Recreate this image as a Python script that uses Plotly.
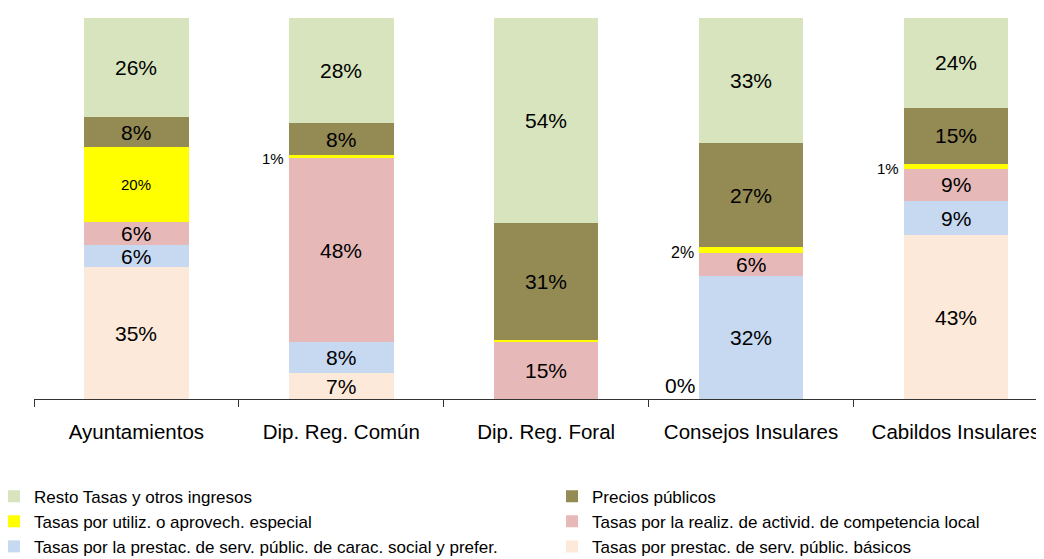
import plotly.graph_objects as go

categories = ["Ayuntamientos", "Dip. Reg. Común", "Dip. Reg. Foral", "Consejos Insulares", "Cabildos Insulares"]

# series, bottom to top (percent of total)
basicos = [34.6, 6.8, 0.0, 0.0, 43.0]
social = [5.8, 8.1, 0.0, 32.3, 8.9]
realiz = [6.0, 48.3, 15.2, 6.0, 8.6]
utiliz = [19.8, 0.8, 0.2, 1.5, 1.3]
precios = [7.7, 8.4, 30.7, 27.3, 14.7]
resto = [26.1, 27.6, 53.9, 32.9, 23.5]

names = [
    "Tasas por prestac. de serv. públic. básicos",
    "Tasas por la prestac. de serv. públic. de carac. social y prefer.",
    "Tasas por la realiz. de activid. de competencia local",
    "Tasas por utiliz. o aprovech. especial",
    "Precios públicos",
    "Resto Tasas y otros ingresos",
]
series = [basicos, social, realiz, utiliz, precios, resto]
colors = ["#FDE9D9", "#C6D9F1", "#E6B9B8", "#FFFF00", "#948A54", "#D7E4BD"]
legend_of = ["legend2", "legend", "legend2", "legend", "legend2", "legend"]

FONT = "Arial, Liberation Sans, sans-serif"

fig = go.Figure()
for name, vals, col, lg in zip(names, series, colors, legend_of):
    fig.add_trace(go.Bar(
        x=categories, y=vals, name=name,
        marker=dict(color=col, line=dict(width=0)),
        legend=lg, hoverinfo="skip",
    ))

annotations = []
for si, vals in enumerate(series):
    base = [sum(series[k][ci] for k in range(si)) for ci in range(len(categories))]
    for ci, v in enumerate(vals):
        txt = f"{round(v)}%"
        if v >= 3:
            size = 15 if (si == 3) else 21
            annotations.append(dict(x=categories[ci], y=base[ci] + v / 2, text=txt,
                                    showarrow=False, xref="x", yref="y",
                                    font=dict(size=size, color="black", family=FONT)))
        elif si == 3 and ci != 2:
            size = 16 if round(v) == 2 else 15
            annotations.append(dict(x=categories[ci], y=base[ci] + v / 2, text=txt,
                                    showarrow=False, xref="x", yref="y",
                                    xanchor="right", xshift=-55, yshift=-2,
                                    font=dict(size=size, color="black", family=FONT)))
        elif si == 0 and v == 0 and ci == 3:
            annotations.append(dict(x=categories[ci], y=0, text=txt,
                                    showarrow=False, xref="x", yref="y",
                                    xanchor="right", yanchor="bottom", xshift=-54, yshift=0,
                                    font=dict(size=21, color="black", family=FONT)))

fig.update_layout(
    width=1036, height=551,
    barmode="stack", bargap=0.49,
    plot_bgcolor="white", paper_bgcolor="white",
    margin=dict(l=26, r=0, t=10, b=160, autoexpand=False),
    font=dict(family=FONT, color="black"),
    xaxis=dict(range=[-0.5, 4.43], showline=True, linecolor="#333333", linewidth=1,
               ticks="outside", tickson="boundaries", ticklen=7, tickcolor="#333333",
               tickfont=dict(size=20.5, color="black", family=FONT),
               ticklabelstandoff=14, showgrid=False, fixedrange=True),
    yaxis=dict(range=[0, 100], visible=False, showgrid=False, zeroline=False, fixedrange=True),
    legend=dict(x=-0.0396, xanchor="left", y=-0.209, yanchor="top",
                traceorder="reversed", orientation="v",
                font=dict(size=17, color="black", family=FONT),
                bgcolor="rgba(0,0,0,0)", itemclick=False),
    legend2=dict(x=0.5129, xanchor="left", y=-0.209, yanchor="top",
                 traceorder="reversed", orientation="v",
                 font=dict(size=17, color="black", family=FONT),
                 bgcolor="rgba(0,0,0,0)", itemclick=False),
    annotations=annotations,
    showlegend=True,
)

fig.write_html("out.html")
